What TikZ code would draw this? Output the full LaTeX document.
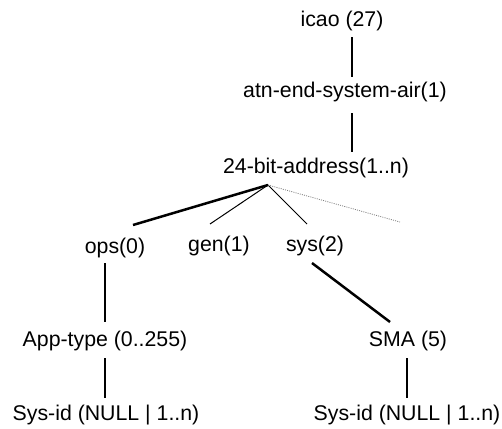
\documentclass[tikz,border=0pt]{standalone}
\usepackage{fontspec}
\setmainfont{Liberation Sans}
\begin{document}
\begin{tikzpicture}[x=0.5pt,y=-0.5pt,
  lbl/.style={inner sep=0pt,anchor=center,text height=0.75em,text depth=0.25em,font=\fontsize{10.65}{12}\selectfont},
  thickline/.style={line width=1.25pt},
  thinline/.style={line width=0.5pt},
  dotline/.style={line width=0.4pt,gray,dash pattern=on 0.5pt off 0.6pt}]
\useasboundingbox (0,0) rectangle (502,428);
\node[lbl] (icao) at (342,21) {icao (27)};
\node[lbl] (atn) at (345,92) {atn-end-system-air(1)};
\node[lbl] (addr) at (316,168) {24-bit-address(1..n)};
\node[lbl] (ops) at (115,248) {ops(0)};
\node[lbl] (gen) at (219,246) {gen(1)};
\node[lbl] (sys) at (315,246) {sys(2)};
\node[lbl] (app) at (105,341) {App-type (0..255)};
\node[lbl] (sma) at (408,341) {SMA (5)};
\node[lbl] (sid1) at (106,415) {Sys-id (NULL | 1..n)};
\node[lbl] (sid2) at (407,415) {Sys-id (NULL | 1..n)};
\coordinate (apex) at ([shift={(-48,17)}]addr.center);
\coordinate (dotend) at (400,222);
\draw[thickline] ([shift={(10,16)}]icao.center) -- ([shift={(7,-15)}]atn.center);
\draw[thickline] ([shift={(7,21)}]atn.center) -- ([shift={(36,-16)}]addr.center);
\draw[thickline] (apex) -- ([shift={(18,-23)}]ops.center);
\draw[thinline] (apex) -- ([shift={(-9,-22)}]gen.center);
\draw[thinline] (apex) -- ([shift={(-8,-22)}]sys.center);
\draw[dotline] (apex) -- (dotend);
\draw[thickline] ([shift={(-10,15)}]ops.center) -- ([shift={(0,-19)}]app.center);
\draw[thickline] ([shift={(-3,17)}]sys.center) -- ([shift={(-18,-19)}]sma.center);
\draw[thickline] ([shift={(0,17)}]app.center) -- ([shift={(-1,-17)}]sid1.center);
\draw[thickline] ([shift={(-1,17)}]sma.center) -- ([shift={(0,-17)}]sid2.center);
\end{tikzpicture}
\end{document}
